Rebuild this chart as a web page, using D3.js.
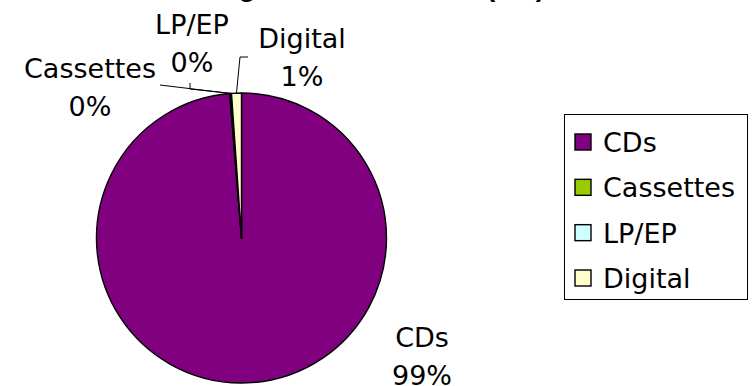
<!DOCTYPE html>
<html>
<head>
<meta charset="utf-8">
<script src="https://cdn.jsdelivr.net/npm/d3@7"></script>
<style>
  html, body { margin: 0; padding: 0; background: #fff; }
  svg { display: block; }
</style>
</head>
<body>
<script>
// Share of sales by format, in percent
const formats = ["CDs", "Cassettes", "LP/EP", "Digital"];
const shares = [98.7, 0.1, 0.1, 1.1];
const colors = ["#800080", "#99CC00", "#CCFFFF", "#FFFFCC"];
const title = "Singles Market Share (UK)";

const W = 752, H = 386;
const cx = 241.5, cy = 238, R = 145;
const FONT = "'DejaVu Sans', Verdana, sans-serif";

const svg = d3.select("body").append("svg")
  .attr("width", W).attr("height", H);

svg.append("rect").attr("width", W).attr("height", H).attr("fill", "#fff");

// Title (sits mostly above the visible area)
svg.append("text")
  .attr("x", 195).attr("y", -4)
  .attr("font-family", "'Liberation Sans', Arial, sans-serif")
  .attr("font-weight", "bold")
  .attr("font-size", 28)
  .text(title);

const data = formats.map((f, i) => ({ name: f, value: shares[i], color: colors[i] }));

const pie = d3.pie().sort(null).value(d => d.value);
const arcs = pie(data);
const arc = d3.arc().innerRadius(0).outerRadius(R);

const g = svg.append("g").attr("transform", `translate(${cx},${cy})`);
g.selectAll("path").data(arcs).join("path")
  .attr("d", arc)
  .attr("fill", d => d.data.color)
  .attr("stroke", "#000")
  .attr("stroke-width", 1.4)
  .attr("stroke-linejoin", "round");

// Point on the rim at the middle of a slice
function rim(a) {
  const m = (a.startAngle + a.endAngle) / 2;
  return [cx + R * Math.sin(m), cy - R * Math.cos(m)];
}

const pct = v => Math.round(v) + "%";

// Data label placement (name on first line, percent on second)
const labelPos = {
  "CDs": { x: 422, y: 347 },
  "Cassettes": { x: 90, y: 78 },
  "LP/EP": { x: 192, y: 34 },
  "Digital": { x: 302, y: 48 }
};
const lineH = 38;

// Leader lines for the thin slices
const leaders = {
  "Cassettes": [[160, 85]],
  "LP/EP": [[190, 83], [190, 89]],
  "Digital": [[248, 57], [240, 57]]
};

const line = d3.line();
arcs.forEach(a => {
  const pts = leaders[a.data.name];
  if (!pts) return;
  svg.append("path")
    .attr("d", line(pts.concat([rim(a)])))
    .attr("fill", "none")
    .attr("stroke", "#000")
    .attr("stroke-width", 1);
});

arcs.forEach(a => {
  const p = labelPos[a.data.name];
  const t = svg.append("text")
    .attr("font-family", FONT)
    .attr("font-size", 27)
    .attr("text-anchor", "middle")
    .attr("fill", "#000");
  t.append("tspan").attr("x", p.x).attr("y", p.y).text(a.data.name);
  t.append("tspan").attr("x", p.x).attr("y", p.y + lineH).text(pct(a.data.value));
});

// Legend
const lg = svg.append("g");
lg.append("rect")
  .attr("x", 564.5).attr("y", 114.5)
  .attr("width", 183).attr("height", 185)
  .attr("fill", "#fff")
  .attr("stroke", "#000")
  .attr("stroke-width", 1);

const ly = d3.scalePoint().domain(formats).range([142, 278]);
const items = lg.selectAll("g.item").data(data).join("g")
  .attr("class", "item")
  .attr("transform", d => `translate(0,${ly(d.name)})`);
items.append("rect")
  .attr("x", 575).attr("y", -8)
  .attr("width", 16).attr("height", 16)
  .attr("fill", d => d.color)
  .attr("stroke", "#000")
  .attr("stroke-width", 1.4);
items.append("text")
  .attr("x", 603).attr("y", 10)
  .attr("font-family", FONT)
  .attr("font-size", 27)
  .attr("fill", "#000")
  .text(d => d.name);
</script>
</body>
</html>
